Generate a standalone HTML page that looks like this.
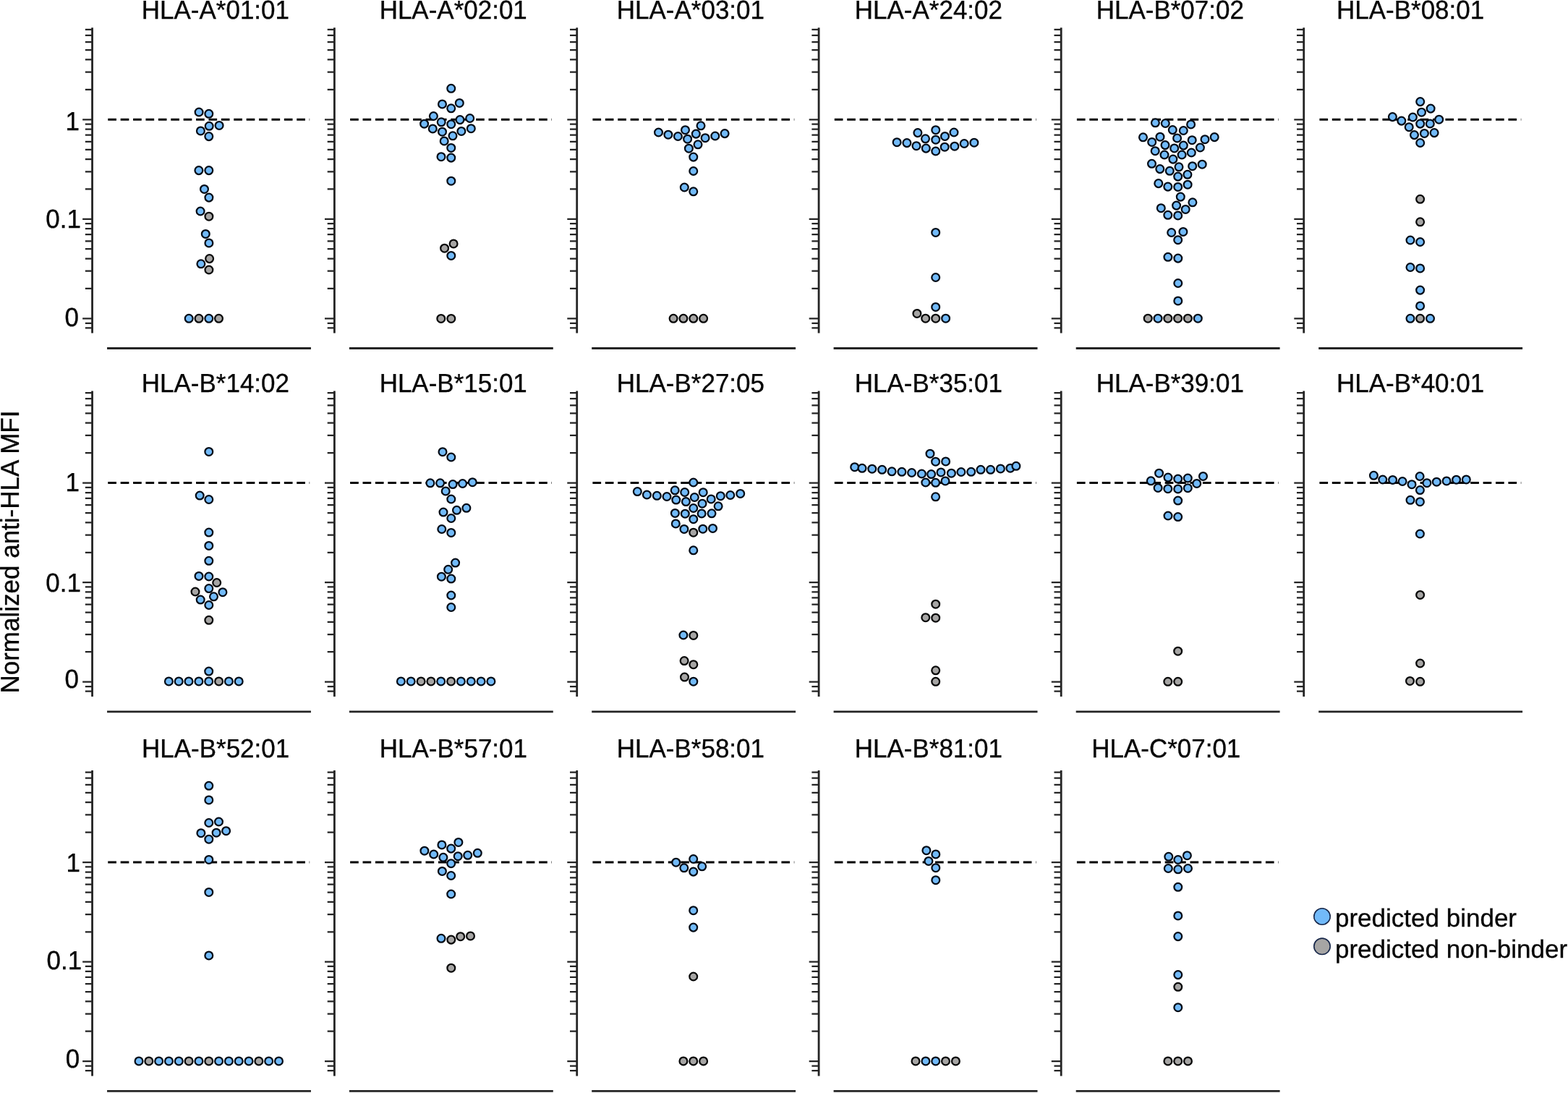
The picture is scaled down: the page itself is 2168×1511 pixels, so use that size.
<!DOCTYPE html>
<html lang="en"><head><meta charset="utf-8"><title>Normalized anti-HLA MFI</title>
<style>html,body{margin:0;padding:0;background:#fff}body{width:2168px;height:1511px;overflow:hidden}svg{display:block}text{font-family:"Liberation Sans",Arial,Helvetica,sans-serif;fill:#050505;stroke:#050505;stroke-width:0.35px;text-rendering:geometricPrecision}.ax{stroke:#242424;stroke-width:2.8;fill:none}.tk{stroke:#242424;stroke-width:2.25;fill:none}.dl{stroke:#050505;stroke-width:3;stroke-dasharray:11.7 5.7;fill:none}.b{fill:#72baf9;stroke:#030b16;stroke-width:2.25}.g{fill:#a6a5a4;stroke:#080808;stroke-width:2.25}.t{font-size:36.19px}</style></head><body>
<svg width="2168" height="1511" viewBox="0 0 2168 1511">
<rect width="2168" height="1511" fill="#fff"/>
<g>
<path class="ax" d="M127.55 38.26V460.6"/>
<path class="tk" d="M114.15 165.4H127.55M114.15 302.85H127.55M114.15 440.3H127.55M117.85 123.89H127.55M117.85 99.6H127.55M117.85 82.38H127.55M117.85 69.01H127.55M117.85 58.09H127.55M117.85 48.86H127.55M117.85 40.86H127.55M117.85 261.47H127.55M117.85 398.92H127.55M117.85 237.27H127.55M117.85 374.72H127.55M117.85 220.1H127.55M117.85 357.55H127.55M117.85 206.78H127.55M117.85 344.23H127.55M117.85 195.89H127.55M117.85 333.34H127.55M117.85 186.69H127.55M117.85 324.14H127.55M117.85 178.72H127.55M117.85 316.17H127.55M117.85 171.69H127.55M117.85 309.14H127.55M117.85 446.8H127.55M117.85 453.3H127.55"/>
<path class="ax" d="M148.05 481.5H429.95"/>
<path class="dl" d="M149.25 165.3H428.15"/>
<text class="t" transform="translate(195.83 26) scale(0.967 1)">HLA-A*01:01</text>
<circle class="b" cx="275.1" cy="155" r="5.4"/>
<circle class="b" cx="288.8" cy="157.3" r="5.4"/>
<circle class="b" cx="289.2" cy="174.3" r="5.4"/>
<circle class="b" cx="303.1" cy="173.4" r="5.4"/>
<circle class="b" cx="277.4" cy="180.9" r="5.4"/>
<circle class="b" cx="288.8" cy="188.6" r="5.4"/>
<circle class="b" cx="274.9" cy="235.6" r="5.4"/>
<circle class="b" cx="288.8" cy="235.6" r="5.4"/>
<circle class="b" cx="282.5" cy="261.4" r="5.4"/>
<circle class="b" cx="288.9" cy="273.1" r="5.4"/>
<circle class="b" cx="277.1" cy="292" r="5.4"/>
<circle class="g" cx="288.9" cy="299.2" r="5.4"/>
<circle class="b" cx="284.3" cy="323.4" r="5.4"/>
<circle class="b" cx="288.9" cy="335.9" r="5.4"/>
<circle class="g" cx="289.6" cy="357.6" r="5.4"/>
<circle class="b" cx="277.9" cy="364.8" r="5.4"/>
<circle class="g" cx="288.9" cy="373" r="5.4"/>
<circle class="b" cx="261.2" cy="440.3" r="5.4"/>
<circle class="g" cx="275" cy="440.3" r="5.4"/>
<circle class="b" cx="288.8" cy="440.3" r="5.4"/>
<circle class="g" cx="302.5" cy="440.3" r="5.4"/>
</g>
<g>
<path class="ax" d="M462.4 38.26V460.6"/>
<path class="tk" d="M449 165.4H462.4M449 302.85H462.4M449 440.3H462.4M452.7 123.89H462.4M452.7 99.6H462.4M452.7 82.38H462.4M452.7 69.01H462.4M452.7 58.09H462.4M452.7 48.86H462.4M452.7 40.86H462.4M452.7 261.47H462.4M452.7 398.92H462.4M452.7 237.27H462.4M452.7 374.72H462.4M452.7 220.1H462.4M452.7 357.55H462.4M452.7 206.78H462.4M452.7 344.23H462.4M452.7 195.89H462.4M452.7 333.34H462.4M452.7 186.69H462.4M452.7 324.14H462.4M452.7 178.72H462.4M452.7 316.17H462.4M452.7 171.69H462.4M452.7 309.14H462.4M452.7 446.8H462.4M452.7 453.3H462.4"/>
<path class="ax" d="M482.9 481.5H764.8"/>
<path class="dl" d="M484.1 165.3H763"/>
<text class="t" transform="translate(524.63 26) scale(0.967 1)">HLA-A*02:01</text>
<circle class="b" cx="623.75" cy="122.3" r="5.4"/>
<circle class="b" cx="611.5" cy="143.9" r="5.4"/>
<circle class="b" cx="635.3" cy="142.4" r="5.4"/>
<circle class="b" cx="623.75" cy="149.8" r="5.4"/>
<circle class="b" cx="599.4" cy="160.5" r="5.4"/>
<circle class="b" cx="636" cy="165.6" r="5.4"/>
<circle class="b" cx="649.7" cy="163.5" r="5.4"/>
<circle class="b" cx="610.2" cy="168.8" r="5.4"/>
<circle class="b" cx="586.6" cy="171.2" r="5.4"/>
<circle class="b" cx="623.75" cy="171.7" r="5.4"/>
<circle class="b" cx="598.3" cy="177.9" r="5.4"/>
<circle class="b" cx="651.3" cy="177.7" r="5.4"/>
<circle class="b" cx="611.5" cy="182.2" r="5.4"/>
<circle class="b" cx="637.9" cy="181.4" r="5.4"/>
<circle class="b" cx="626" cy="187.8" r="5.4"/>
<circle class="b" cx="614.2" cy="194.9" r="5.4"/>
<circle class="b" cx="623.75" cy="204.4" r="5.4"/>
<circle class="b" cx="610" cy="216.7" r="5.4"/>
<circle class="b" cx="623.75" cy="218.1" r="5.4"/>
<circle class="b" cx="623.8" cy="250.2" r="5.4"/>
<circle class="g" cx="627.1" cy="336.9" r="5.4"/>
<circle class="g" cx="614.6" cy="343.2" r="5.4"/>
<circle class="b" cx="623.8" cy="353.4" r="5.4"/>
<circle class="g" cx="609.8" cy="440.4" r="5.4"/>
<circle class="g" cx="623.8" cy="440.4" r="5.4"/>
</g>
<g>
<path class="ax" d="M797.7 38.26V460.6"/>
<path class="tk" d="M784.3 165.4H797.7M784.3 302.85H797.7M784.3 440.3H797.7M788 123.89H797.7M788 99.6H797.7M788 82.38H797.7M788 69.01H797.7M788 58.09H797.7M788 48.86H797.7M788 40.86H797.7M788 261.47H797.7M788 398.92H797.7M788 237.27H797.7M788 374.72H797.7M788 220.1H797.7M788 357.55H797.7M788 206.78H797.7M788 344.23H797.7M788 195.89H797.7M788 333.34H797.7M788 186.69H797.7M788 324.14H797.7M788 178.72H797.7M788 316.17H797.7M788 171.69H797.7M788 309.14H797.7M788 446.8H797.7M788 453.3H797.7"/>
<path class="ax" d="M818.2 481.5H1100.1"/>
<path class="dl" d="M819.4 165.3H1098.3"/>
<text class="t" transform="translate(852.83 26) scale(0.967 1)">HLA-A*03:01</text>
<circle class="b" cx="969" cy="173.8" r="5.4"/>
<circle class="b" cx="947.5" cy="179.7" r="5.4"/>
<circle class="b" cx="910.5" cy="183" r="5.4"/>
<circle class="b" cx="962.3" cy="185.1" r="5.4"/>
<circle class="b" cx="1002.1" cy="184.6" r="5.4"/>
<circle class="b" cx="923.9" cy="186.2" r="5.4"/>
<circle class="b" cx="937.4" cy="188.5" r="5.4"/>
<circle class="b" cx="988.8" cy="188" r="5.4"/>
<circle class="b" cx="975.1" cy="190.7" r="5.4"/>
<circle class="b" cx="950.6" cy="192.2" r="5.4"/>
<circle class="b" cx="965" cy="199.8" r="5.4"/>
<circle class="b" cx="952.4" cy="205.2" r="5.4"/>
<circle class="b" cx="958.75" cy="217.1" r="5.4"/>
<circle class="b" cx="958.75" cy="236.5" r="5.4"/>
<circle class="b" cx="946.3" cy="259" r="5.4"/>
<circle class="b" cx="958.75" cy="264.8" r="5.4"/>
<circle class="g" cx="931.1" cy="440.3" r="5.4"/>
<circle class="g" cx="944.9" cy="440.3" r="5.4"/>
<circle class="g" cx="958.75" cy="440.3" r="5.4"/>
<circle class="g" cx="972.6" cy="440.3" r="5.4"/>
</g>
<g>
<path class="ax" d="M1132.1 38.26V460.6"/>
<path class="tk" d="M1118.7 165.4H1132.1M1118.7 302.85H1132.1M1118.7 440.3H1132.1M1122.4 123.89H1132.1M1122.4 99.6H1132.1M1122.4 82.38H1132.1M1122.4 69.01H1132.1M1122.4 58.09H1132.1M1122.4 48.86H1132.1M1122.4 40.86H1132.1M1122.4 261.47H1132.1M1122.4 398.92H1132.1M1122.4 237.27H1132.1M1122.4 374.72H1132.1M1122.4 220.1H1132.1M1122.4 357.55H1132.1M1122.4 206.78H1132.1M1122.4 344.23H1132.1M1122.4 195.89H1132.1M1122.4 333.34H1132.1M1122.4 186.69H1132.1M1122.4 324.14H1132.1M1122.4 178.72H1132.1M1122.4 316.17H1132.1M1122.4 171.69H1132.1M1122.4 309.14H1132.1M1122.4 446.8H1132.1M1122.4 453.3H1132.1"/>
<path class="ax" d="M1152.6 481.5H1434.5"/>
<path class="dl" d="M1153.8 165.3H1432.7"/>
<text class="t" transform="translate(1181.83 26) scale(0.967 1)">HLA-A*24:02</text>
<circle class="b" cx="1293.75" cy="179.7" r="5.4"/>
<circle class="b" cx="1268.9" cy="183.6" r="5.4"/>
<circle class="b" cx="1319" cy="183" r="5.4"/>
<circle class="b" cx="1306.5" cy="188.4" r="5.4"/>
<circle class="b" cx="1279.5" cy="191.8" r="5.4"/>
<circle class="b" cx="1293.75" cy="193.2" r="5.4"/>
<circle class="b" cx="1240.1" cy="196.7" r="5.4"/>
<circle class="b" cx="1253.9" cy="197.6" r="5.4"/>
<circle class="b" cx="1346.9" cy="197.2" r="5.4"/>
<circle class="b" cx="1333.2" cy="198.5" r="5.4"/>
<circle class="b" cx="1267" cy="201.7" r="5.4"/>
<circle class="b" cx="1319.9" cy="202.2" r="5.4"/>
<circle class="b" cx="1306.2" cy="203.2" r="5.4"/>
<circle class="b" cx="1280.3" cy="205.1" r="5.4"/>
<circle class="b" cx="1293.75" cy="209" r="5.4"/>
<circle class="b" cx="1293.7" cy="321.4" r="5.4"/>
<circle class="b" cx="1293.7" cy="383.5" r="5.4"/>
<circle class="b" cx="1293.7" cy="424.4" r="5.4"/>
<circle class="g" cx="1267.9" cy="433.4" r="5.4"/>
<circle class="g" cx="1279.7" cy="440.2" r="5.4"/>
<circle class="g" cx="1293.7" cy="440.2" r="5.4"/>
<circle class="b" cx="1307.6" cy="440.2" r="5.4"/>
</g>
<g>
<path class="ax" d="M1467.2 38.26V460.6"/>
<path class="tk" d="M1453.8 165.4H1467.2M1453.8 302.85H1467.2M1453.8 440.3H1467.2M1457.5 123.89H1467.2M1457.5 99.6H1467.2M1457.5 82.38H1467.2M1457.5 69.01H1467.2M1457.5 58.09H1467.2M1457.5 48.86H1467.2M1457.5 40.86H1467.2M1457.5 261.47H1467.2M1457.5 398.92H1467.2M1457.5 237.27H1467.2M1457.5 374.72H1467.2M1457.5 220.1H1467.2M1457.5 357.55H1467.2M1457.5 206.78H1467.2M1457.5 344.23H1467.2M1457.5 195.89H1467.2M1457.5 333.34H1467.2M1457.5 186.69H1467.2M1457.5 324.14H1467.2M1457.5 178.72H1467.2M1457.5 316.17H1467.2M1457.5 171.69H1467.2M1457.5 309.14H1467.2M1457.5 446.8H1467.2M1457.5 453.3H1467.2"/>
<path class="ax" d="M1487.7 481.5H1769.6"/>
<path class="dl" d="M1488.9 165.3H1767.8"/>
<text class="t" transform="translate(1515.73 26) scale(0.967 1)">HLA-B*07:02</text>
<circle class="b" cx="1597.4" cy="169.8" r="5.4"/>
<circle class="b" cx="1611.3" cy="170.5" r="5.4"/>
<circle class="b" cx="1646.6" cy="171.9" r="5.4"/>
<circle class="b" cx="1621.3" cy="179.6" r="5.4"/>
<circle class="b" cx="1636.3" cy="180.5" r="5.4"/>
<circle class="b" cx="1580.5" cy="189.8" r="5.4"/>
<circle class="b" cx="1679.2" cy="189.6" r="5.4"/>
<circle class="b" cx="1604" cy="189.2" r="5.4"/>
<circle class="b" cx="1627.6" cy="190.9" r="5.4"/>
<circle class="b" cx="1666" cy="192.7" r="5.4"/>
<circle class="b" cx="1648.2" cy="193.7" r="5.4"/>
<circle class="b" cx="1592.7" cy="196.4" r="5.4"/>
<circle class="b" cx="1611" cy="200.6" r="5.4"/>
<circle class="b" cx="1636.3" cy="201.1" r="5.4"/>
<circle class="b" cx="1659.4" cy="204" r="5.4"/>
<circle class="b" cx="1623.7" cy="204.9" r="5.4"/>
<circle class="b" cx="1597.2" cy="208.7" r="5.4"/>
<circle class="b" cx="1647.3" cy="211" r="5.4"/>
<circle class="b" cx="1610" cy="214" r="5.4"/>
<circle class="b" cx="1634.1" cy="214" r="5.4"/>
<circle class="b" cx="1621.9" cy="220.1" r="5.4"/>
<circle class="b" cx="1592.5" cy="226.3" r="5.4"/>
<circle class="b" cx="1662.2" cy="227.2" r="5.4"/>
<circle class="b" cx="1648.7" cy="229.7" r="5.4"/>
<circle class="b" cx="1630" cy="230.8" r="5.4"/>
<circle class="b" cx="1603.8" cy="233.6" r="5.4"/>
<circle class="b" cx="1617.3" cy="236.3" r="5.4"/>
<circle class="b" cx="1641.9" cy="241.3" r="5.4"/>
<circle class="b" cx="1628.7" cy="244.1" r="5.4"/>
<circle class="b" cx="1601.8" cy="253.6" r="5.4"/>
<circle class="b" cx="1614.8" cy="258.1" r="5.4"/>
<circle class="b" cx="1628.7" cy="258.4" r="5.4"/>
<circle class="b" cx="1642.1" cy="255.2" r="5.4"/>
<circle class="b" cx="1632.3" cy="272.1" r="5.4"/>
<circle class="b" cx="1648.9" cy="279.8" r="5.4"/>
<circle class="b" cx="1626.6" cy="284.1" r="5.4"/>
<circle class="b" cx="1605.3" cy="287.7" r="5.4"/>
<circle class="b" cx="1639.2" cy="289.4" r="5.4"/>
<circle class="b" cx="1614.8" cy="297.3" r="5.4"/>
<circle class="b" cx="1628.7" cy="297.9" r="5.4"/>
<circle class="b" cx="1619.7" cy="321.5" r="5.4"/>
<circle class="b" cx="1635.9" cy="320.4" r="5.4"/>
<circle class="b" cx="1628.7" cy="331.7" r="5.4"/>
<circle class="b" cx="1614.9" cy="355.3" r="5.4"/>
<circle class="b" cx="1628.8" cy="357.1" r="5.4"/>
<circle class="b" cx="1628.8" cy="391.5" r="5.4"/>
<circle class="b" cx="1628.8" cy="415.9" r="5.4"/>
<circle class="g" cx="1587.2" cy="440.2" r="5.4"/>
<circle class="b" cx="1601" cy="440.2" r="5.4"/>
<circle class="g" cx="1614.8" cy="440.2" r="5.4"/>
<circle class="g" cx="1628.6" cy="440.2" r="5.4"/>
<circle class="g" cx="1642.4" cy="440.2" r="5.4"/>
<circle class="b" cx="1656.3" cy="440.2" r="5.4"/>
</g>
<g>
<path class="ax" d="M1802.7 38.26V460.6"/>
<path class="tk" d="M1789.3 165.4H1802.7M1789.3 302.85H1802.7M1789.3 440.3H1802.7M1793 123.89H1802.7M1793 99.6H1802.7M1793 82.38H1802.7M1793 69.01H1802.7M1793 58.09H1802.7M1793 48.86H1802.7M1793 40.86H1802.7M1793 261.47H1802.7M1793 398.92H1802.7M1793 237.27H1802.7M1793 374.72H1802.7M1793 220.1H1802.7M1793 357.55H1802.7M1793 206.78H1802.7M1793 344.23H1802.7M1793 195.89H1802.7M1793 333.34H1802.7M1793 186.69H1802.7M1793 324.14H1802.7M1793 178.72H1802.7M1793 316.17H1802.7M1793 171.69H1802.7M1793 309.14H1802.7M1793 446.8H1802.7M1793 453.3H1802.7"/>
<path class="ax" d="M1823.2 481.5H2105.1"/>
<path class="dl" d="M1824.4 165.3H2103.3"/>
<text class="t" transform="translate(1848.03 26) scale(0.967 1)">HLA-B*08:01</text>
<circle class="b" cx="1963.7" cy="140.6" r="5.4"/>
<circle class="b" cx="1978.1" cy="150.1" r="5.4"/>
<circle class="b" cx="1965.5" cy="155.2" r="5.4"/>
<circle class="b" cx="1953.4" cy="162" r="5.4"/>
<circle class="b" cx="1925.4" cy="161.6" r="5.4"/>
<circle class="b" cx="1989.7" cy="165.2" r="5.4"/>
<circle class="b" cx="1937.8" cy="167.1" r="5.4"/>
<circle class="b" cx="1963.7" cy="171.1" r="5.4"/>
<circle class="b" cx="1977.3" cy="170.9" r="5.4"/>
<circle class="b" cx="1948.2" cy="175.7" r="5.4"/>
<circle class="b" cx="1983.1" cy="183.6" r="5.4"/>
<circle class="b" cx="1969.4" cy="184.4" r="5.4"/>
<circle class="b" cx="1955.5" cy="186.6" r="5.4"/>
<circle class="b" cx="1963.7" cy="197.5" r="5.4"/>
<circle class="g" cx="1963.6" cy="275.3" r="5.4"/>
<circle class="g" cx="1963.6" cy="306.8" r="5.4"/>
<circle class="b" cx="1950" cy="332" r="5.4"/>
<circle class="b" cx="1963.6" cy="334.5" r="5.4"/>
<circle class="b" cx="1950" cy="369.5" r="5.4"/>
<circle class="b" cx="1963.6" cy="370.9" r="5.4"/>
<circle class="b" cx="1963.6" cy="401.1" r="5.4"/>
<circle class="b" cx="1963.6" cy="422.9" r="5.4"/>
<circle class="b" cx="1950" cy="440.3" r="5.4"/>
<circle class="g" cx="1963.6" cy="440.3" r="5.4"/>
<circle class="b" cx="1977.5" cy="440.3" r="5.4"/>
</g>
<g>
<path class="ax" d="M127.55 540.56V962.9"/>
<path class="tk" d="M114.15 667.7H127.55M114.15 805.15H127.55M114.15 942.6H127.55M117.85 626.19H127.55M117.85 601.9H127.55M117.85 584.68H127.55M117.85 571.31H127.55M117.85 560.39H127.55M117.85 551.16H127.55M117.85 543.16H127.55M117.85 763.77H127.55M117.85 901.22H127.55M117.85 739.57H127.55M117.85 877.02H127.55M117.85 722.4H127.55M117.85 859.85H127.55M117.85 709.08H127.55M117.85 846.53H127.55M117.85 698.19H127.55M117.85 835.64H127.55M117.85 688.99H127.55M117.85 826.44H127.55M117.85 681.02H127.55M117.85 818.47H127.55M117.85 673.99H127.55M117.85 811.44H127.55M117.85 949.1H127.55M117.85 955.6H127.55"/>
<path class="ax" d="M148.05 983.8H429.95"/>
<path class="dl" d="M149.25 667.6H428.15"/>
<text class="t" transform="translate(195.83 541.8) scale(0.967 1)">HLA-B*14:02</text>
<circle class="b" cx="288.8" cy="624.4" r="5.4"/>
<circle class="b" cx="276.2" cy="685.1" r="5.4"/>
<circle class="b" cx="288.8" cy="690.5" r="5.4"/>
<circle class="b" cx="288.8" cy="736.1" r="5.4"/>
<circle class="b" cx="288.8" cy="754.4" r="5.4"/>
<circle class="b" cx="288.8" cy="775.3" r="5.4"/>
<circle class="b" cx="275" cy="796.4" r="5.4"/>
<circle class="b" cx="288.8" cy="797" r="5.4"/>
<circle class="g" cx="299.7" cy="805.5" r="5.4"/>
<circle class="b" cx="288.8" cy="813.6" r="5.4"/>
<circle class="g" cx="270" cy="818" r="5.4"/>
<circle class="b" cx="307.9" cy="818.7" r="5.4"/>
<circle class="b" cx="295.5" cy="824.8" r="5.4"/>
<circle class="b" cx="277.2" cy="829.1" r="5.4"/>
<circle class="b" cx="288.8" cy="836.5" r="5.4"/>
<circle class="g" cx="288.8" cy="857.3" r="5.4"/>
<circle class="b" cx="288.7" cy="928.1" r="5.4"/>
<circle class="b" cx="233.4" cy="941.9" r="5.4"/>
<circle class="b" cx="247.2" cy="941.9" r="5.4"/>
<circle class="b" cx="261" cy="941.9" r="5.4"/>
<circle class="b" cx="274.9" cy="941.9" r="5.4"/>
<circle class="b" cx="288.7" cy="941.9" r="5.4"/>
<circle class="g" cx="302.6" cy="941.9" r="5.4"/>
<circle class="b" cx="316.4" cy="941.9" r="5.4"/>
<circle class="b" cx="330.2" cy="941.9" r="5.4"/>
</g>
<g>
<path class="ax" d="M462.4 540.56V962.9"/>
<path class="tk" d="M449 667.7H462.4M449 805.15H462.4M449 942.6H462.4M452.7 626.19H462.4M452.7 601.9H462.4M452.7 584.68H462.4M452.7 571.31H462.4M452.7 560.39H462.4M452.7 551.16H462.4M452.7 543.16H462.4M452.7 763.77H462.4M452.7 901.22H462.4M452.7 739.57H462.4M452.7 877.02H462.4M452.7 722.4H462.4M452.7 859.85H462.4M452.7 709.08H462.4M452.7 846.53H462.4M452.7 698.19H462.4M452.7 835.64H462.4M452.7 688.99H462.4M452.7 826.44H462.4M452.7 681.02H462.4M452.7 818.47H462.4M452.7 673.99H462.4M452.7 811.44H462.4M452.7 949.1H462.4M452.7 955.6H462.4"/>
<path class="ax" d="M482.9 983.8H764.8"/>
<path class="dl" d="M484.1 667.6H763"/>
<text class="t" transform="translate(524.63 541.8) scale(0.967 1)">HLA-B*15:01</text>
<circle class="b" cx="612" cy="624.7" r="5.4"/>
<circle class="b" cx="623.8" cy="632" r="5.4"/>
<circle class="b" cx="594.9" cy="667.8" r="5.4"/>
<circle class="b" cx="608.6" cy="667.8" r="5.4"/>
<circle class="b" cx="626.1" cy="669.6" r="5.4"/>
<circle class="b" cx="639.6" cy="668.5" r="5.4"/>
<circle class="b" cx="653.3" cy="666.7" r="5.4"/>
<circle class="b" cx="616.2" cy="678.9" r="5.4"/>
<circle class="b" cx="623.8" cy="690" r="5.4"/>
<circle class="b" cx="644.9" cy="702.3" r="5.4"/>
<circle class="b" cx="631.5" cy="705.3" r="5.4"/>
<circle class="b" cx="613" cy="708.1" r="5.4"/>
<circle class="b" cx="623.8" cy="716.5" r="5.4"/>
<circle class="b" cx="610.8" cy="731.5" r="5.4"/>
<circle class="b" cx="623.8" cy="736.4" r="5.4"/>
<circle class="b" cx="629.6" cy="778.1" r="5.4"/>
<circle class="b" cx="619.7" cy="787.3" r="5.4"/>
<circle class="b" cx="610.4" cy="797.2" r="5.4"/>
<circle class="b" cx="623.8" cy="800.1" r="5.4"/>
<circle class="b" cx="623.8" cy="823" r="5.4"/>
<circle class="b" cx="623.8" cy="839.5" r="5.4"/>
<circle class="b" cx="554.4" cy="941.9" r="5.4"/>
<circle class="b" cx="568.2" cy="941.9" r="5.4"/>
<circle class="g" cx="582.1" cy="941.9" r="5.4"/>
<circle class="g" cx="595.9" cy="941.9" r="5.4"/>
<circle class="b" cx="609.7" cy="941.9" r="5.4"/>
<circle class="g" cx="623.6" cy="941.9" r="5.4"/>
<circle class="b" cx="637.4" cy="941.9" r="5.4"/>
<circle class="b" cx="651.3" cy="941.9" r="5.4"/>
<circle class="b" cx="665.1" cy="941.9" r="5.4"/>
<circle class="b" cx="678.9" cy="941.9" r="5.4"/>
</g>
<g>
<path class="ax" d="M797.7 540.56V962.9"/>
<path class="tk" d="M784.3 667.7H797.7M784.3 805.15H797.7M784.3 942.6H797.7M788 626.19H797.7M788 601.9H797.7M788 584.68H797.7M788 571.31H797.7M788 560.39H797.7M788 551.16H797.7M788 543.16H797.7M788 763.77H797.7M788 901.22H797.7M788 739.57H797.7M788 877.02H797.7M788 722.4H797.7M788 859.85H797.7M788 709.08H797.7M788 846.53H797.7M788 698.19H797.7M788 835.64H797.7M788 688.99H797.7M788 826.44H797.7M788 681.02H797.7M788 818.47H797.7M788 673.99H797.7M788 811.44H797.7M788 949.1H797.7M788 955.6H797.7"/>
<path class="ax" d="M818.2 983.8H1100.1"/>
<path class="dl" d="M819.4 667.6H1098.3"/>
<text class="t" transform="translate(852.83 541.8) scale(0.967 1)">HLA-B*27:05</text>
<circle class="b" cx="958.75" cy="667" r="5.4"/>
<circle class="b" cx="881.3" cy="679.6" r="5.4"/>
<circle class="b" cx="933.2" cy="677.8" r="5.4"/>
<circle class="b" cx="946.7" cy="680.5" r="5.4"/>
<circle class="b" cx="972.2" cy="680.7" r="5.4"/>
<circle class="b" cx="1023.7" cy="682.4" r="5.4"/>
<circle class="b" cx="894.4" cy="684" r="5.4"/>
<circle class="b" cx="1009.8" cy="684.5" r="5.4"/>
<circle class="b" cx="908.3" cy="685.3" r="5.4"/>
<circle class="b" cx="996.3" cy="685.7" r="5.4"/>
<circle class="b" cx="922" cy="686.5" r="5.4"/>
<circle class="b" cx="960.3" cy="687.5" r="5.4"/>
<circle class="b" cx="983.2" cy="689.9" r="5.4"/>
<circle class="b" cx="934.8" cy="691.1" r="5.4"/>
<circle class="b" cx="948.4" cy="693.6" r="5.4"/>
<circle class="b" cx="971" cy="696.2" r="5.4"/>
<circle class="b" cx="993.1" cy="699.8" r="5.4"/>
<circle class="b" cx="958.75" cy="702.5" r="5.4"/>
<circle class="b" cx="933.4" cy="709.4" r="5.4"/>
<circle class="b" cx="947.3" cy="710.2" r="5.4"/>
<circle class="b" cx="970.1" cy="709.9" r="5.4"/>
<circle class="b" cx="984" cy="709.8" r="5.4"/>
<circle class="b" cx="958.75" cy="717.7" r="5.4"/>
<circle class="b" cx="934.3" cy="723.9" r="5.4"/>
<circle class="b" cx="945.9" cy="731.4" r="5.4"/>
<circle class="b" cx="971.8" cy="731.2" r="5.4"/>
<circle class="b" cx="985.5" cy="730.4" r="5.4"/>
<circle class="g" cx="958.75" cy="736.2" r="5.4"/>
<circle class="b" cx="958.75" cy="760.8" r="5.4"/>
<circle class="b" cx="944.9" cy="878" r="5.4"/>
<circle class="g" cx="958.8" cy="878.4" r="5.4"/>
<circle class="g" cx="946.1" cy="913.6" r="5.4"/>
<circle class="g" cx="958.8" cy="918.7" r="5.4"/>
<circle class="g" cx="946.5" cy="936.1" r="5.4"/>
<circle class="b" cx="958.8" cy="942.2" r="5.4"/>
</g>
<g>
<path class="ax" d="M1132.1 540.56V962.9"/>
<path class="tk" d="M1118.7 667.7H1132.1M1118.7 805.15H1132.1M1118.7 942.6H1132.1M1122.4 626.19H1132.1M1122.4 601.9H1132.1M1122.4 584.68H1132.1M1122.4 571.31H1132.1M1122.4 560.39H1132.1M1122.4 551.16H1132.1M1122.4 543.16H1132.1M1122.4 763.77H1132.1M1122.4 901.22H1132.1M1122.4 739.57H1132.1M1122.4 877.02H1132.1M1122.4 722.4H1132.1M1122.4 859.85H1132.1M1122.4 709.08H1132.1M1122.4 846.53H1132.1M1122.4 698.19H1132.1M1122.4 835.64H1132.1M1122.4 688.99H1132.1M1122.4 826.44H1132.1M1122.4 681.02H1132.1M1122.4 818.47H1132.1M1122.4 673.99H1132.1M1122.4 811.44H1132.1M1122.4 949.1H1132.1M1122.4 955.6H1132.1"/>
<path class="ax" d="M1152.6 983.8H1434.5"/>
<path class="dl" d="M1153.8 667.6H1432.7"/>
<text class="t" transform="translate(1181.83 541.8) scale(0.967 1)">HLA-B*35:01</text>
<circle class="b" cx="1181.7" cy="645.7" r="5.4"/>
<circle class="b" cx="1192" cy="647.3" r="5.4"/>
<circle class="b" cx="1205.8" cy="648.2" r="5.4"/>
<circle class="b" cx="1219.6" cy="649.3" r="5.4"/>
<circle class="b" cx="1233.1" cy="651.8" r="5.4"/>
<circle class="b" cx="1246.9" cy="652.3" r="5.4"/>
<circle class="b" cx="1260.6" cy="653.5" r="5.4"/>
<circle class="b" cx="1274.4" cy="655" r="5.4"/>
<circle class="b" cx="1287.6" cy="655.6" r="5.4"/>
<circle class="b" cx="1286" cy="627.2" r="5.4"/>
<circle class="b" cx="1293.6" cy="638.2" r="5.4"/>
<circle class="b" cx="1279.8" cy="667" r="5.4"/>
<circle class="b" cx="1293.6" cy="667.3" r="5.4"/>
<circle class="b" cx="1293.6" cy="686.8" r="5.4"/>
<circle class="b" cx="1307.6" cy="637.9" r="5.4"/>
<circle class="b" cx="1301" cy="652.9" r="5.4"/>
<circle class="b" cx="1315.4" cy="654.2" r="5.4"/>
<circle class="b" cx="1328.9" cy="652.5" r="5.4"/>
<circle class="b" cx="1342.7" cy="652.3" r="5.4"/>
<circle class="b" cx="1356" cy="649.3" r="5.4"/>
<circle class="b" cx="1369.6" cy="649.3" r="5.4"/>
<circle class="b" cx="1383.4" cy="647.9" r="5.4"/>
<circle class="b" cx="1396.9" cy="647.2" r="5.4"/>
<circle class="b" cx="1404.9" cy="644.3" r="5.4"/>
<circle class="b" cx="1307" cy="664.9" r="5.4"/>
<circle class="g" cx="1293.7" cy="835.2" r="5.4"/>
<circle class="g" cx="1279.8" cy="853.7" r="5.4"/>
<circle class="g" cx="1293.7" cy="854.2" r="5.4"/>
<circle class="g" cx="1293.7" cy="926.8" r="5.4"/>
<circle class="g" cx="1293.7" cy="942.3" r="5.4"/>
</g>
<g>
<path class="ax" d="M1467.2 540.56V962.9"/>
<path class="tk" d="M1453.8 667.7H1467.2M1453.8 805.15H1467.2M1453.8 942.6H1467.2M1457.5 626.19H1467.2M1457.5 601.9H1467.2M1457.5 584.68H1467.2M1457.5 571.31H1467.2M1457.5 560.39H1467.2M1457.5 551.16H1467.2M1457.5 543.16H1467.2M1457.5 763.77H1467.2M1457.5 901.22H1467.2M1457.5 739.57H1467.2M1457.5 877.02H1467.2M1457.5 722.4H1467.2M1457.5 859.85H1467.2M1457.5 709.08H1467.2M1457.5 846.53H1467.2M1457.5 698.19H1467.2M1457.5 835.64H1467.2M1457.5 688.99H1467.2M1457.5 826.44H1467.2M1457.5 681.02H1467.2M1457.5 818.47H1467.2M1457.5 673.99H1467.2M1457.5 811.44H1467.2M1457.5 949.1H1467.2M1457.5 955.6H1467.2"/>
<path class="ax" d="M1487.7 983.8H1769.6"/>
<path class="dl" d="M1488.9 667.6H1767.8"/>
<text class="t" transform="translate(1515.73 541.8) scale(0.967 1)">HLA-B*39:01</text>
<circle class="b" cx="1602.6" cy="654.2" r="5.4"/>
<circle class="b" cx="1663.5" cy="658.4" r="5.4"/>
<circle class="b" cx="1615" cy="660.1" r="5.4"/>
<circle class="b" cx="1642.3" cy="661" r="5.4"/>
<circle class="b" cx="1628.7" cy="662.1" r="5.4"/>
<circle class="b" cx="1591.3" cy="664.8" r="5.4"/>
<circle class="b" cx="1654.7" cy="668.4" r="5.4"/>
<circle class="b" cx="1601.1" cy="674.4" r="5.4"/>
<circle class="b" cx="1642.3" cy="674.7" r="5.4"/>
<circle class="b" cx="1614.8" cy="675.7" r="5.4"/>
<circle class="b" cx="1628.7" cy="675.9" r="5.4"/>
<circle class="b" cx="1628.7" cy="692.1" r="5.4"/>
<circle class="b" cx="1615" cy="713" r="5.4"/>
<circle class="b" cx="1628.7" cy="714.6" r="5.4"/>
<circle class="g" cx="1628.7" cy="900.2" r="5.4"/>
<circle class="g" cx="1614.8" cy="942.3" r="5.4"/>
<circle class="g" cx="1628.7" cy="942.3" r="5.4"/>
</g>
<g>
<path class="ax" d="M1802.7 540.56V962.9"/>
<path class="tk" d="M1789.3 667.7H1802.7M1789.3 805.15H1802.7M1789.3 942.6H1802.7M1793 626.19H1802.7M1793 601.9H1802.7M1793 584.68H1802.7M1793 571.31H1802.7M1793 560.39H1802.7M1793 551.16H1802.7M1793 543.16H1802.7M1793 763.77H1802.7M1793 901.22H1802.7M1793 739.57H1802.7M1793 877.02H1802.7M1793 722.4H1802.7M1793 859.85H1802.7M1793 709.08H1802.7M1793 846.53H1802.7M1793 698.19H1802.7M1793 835.64H1802.7M1793 688.99H1802.7M1793 826.44H1802.7M1793 681.02H1802.7M1793 818.47H1802.7M1793 673.99H1802.7M1793 811.44H1802.7M1793 949.1H1802.7M1793 955.6H1802.7"/>
<path class="ax" d="M1823.2 983.8H2105.1"/>
<path class="dl" d="M1824.4 667.6H2103.3"/>
<text class="t" transform="translate(1848.03 541.8) scale(0.967 1)">HLA-B*40:01</text>
<circle class="b" cx="1899.4" cy="657.3" r="5.4"/>
<circle class="b" cx="1911.8" cy="663" r="5.4"/>
<circle class="b" cx="1925.6" cy="663.4" r="5.4"/>
<circle class="b" cx="1939.1" cy="665.5" r="5.4"/>
<circle class="b" cx="1952" cy="669.7" r="5.4"/>
<circle class="b" cx="1963.1" cy="658.5" r="5.4"/>
<circle class="b" cx="1972.9" cy="667.7" r="5.4"/>
<circle class="b" cx="1986.3" cy="666.2" r="5.4"/>
<circle class="b" cx="2000.1" cy="664.9" r="5.4"/>
<circle class="b" cx="2013.6" cy="663.2" r="5.4"/>
<circle class="b" cx="2027.3" cy="662.9" r="5.4"/>
<circle class="b" cx="1963.4" cy="677.6" r="5.4"/>
<circle class="b" cx="1950" cy="691.3" r="5.4"/>
<circle class="b" cx="1963.4" cy="693.7" r="5.4"/>
<circle class="b" cx="1963.4" cy="738" r="5.4"/>
<circle class="g" cx="1963.6" cy="822.4" r="5.4"/>
<circle class="g" cx="1963.6" cy="917" r="5.4"/>
<circle class="g" cx="1949.5" cy="941.4" r="5.4"/>
<circle class="g" cx="1963.6" cy="942.3" r="5.4"/>
</g>
<g>
<path class="ax" d="M127.55 1065.06V1487.4"/>
<path class="tk" d="M114.15 1192.2H127.55M114.15 1329.65H127.55M114.15 1467.1H127.55M117.85 1150.69H127.55M117.85 1126.4H127.55M117.85 1109.18H127.55M117.85 1095.81H127.55M117.85 1084.89H127.55M117.85 1075.66H127.55M117.85 1067.66H127.55M117.85 1288.27H127.55M117.85 1425.72H127.55M117.85 1264.07H127.55M117.85 1401.52H127.55M117.85 1246.9H127.55M117.85 1384.35H127.55M117.85 1233.58H127.55M117.85 1371.03H127.55M117.85 1222.69H127.55M117.85 1360.14H127.55M117.85 1213.49H127.55M117.85 1350.94H127.55M117.85 1205.52H127.55M117.85 1342.97H127.55M117.85 1198.49H127.55M117.85 1335.94H127.55M117.85 1473.6H127.55M117.85 1480.1H127.55"/>
<path class="ax" d="M148.05 1508.3H429.95"/>
<path class="dl" d="M149.25 1192.1H428.15"/>
<text class="t" transform="translate(196.03 1046.5) scale(0.967 1)">HLA-B*52:01</text>
<circle class="b" cx="288.8" cy="1086.3" r="5.4"/>
<circle class="b" cx="288.8" cy="1105.9" r="5.4"/>
<circle class="b" cx="288.8" cy="1137.5" r="5.4"/>
<circle class="b" cx="302.5" cy="1136" r="5.4"/>
<circle class="b" cx="277.9" cy="1151.7" r="5.4"/>
<circle class="b" cx="299.1" cy="1151.2" r="5.4"/>
<circle class="b" cx="312.6" cy="1148.7" r="5.4"/>
<circle class="b" cx="288.8" cy="1160.2" r="5.4"/>
<circle class="b" cx="288.8" cy="1188.4" r="5.4"/>
<circle class="b" cx="288.8" cy="1233.4" r="5.4"/>
<circle class="b" cx="288.8" cy="1320.9" r="5.4"/>
<circle class="b" cx="192.01" cy="1466.9" r="5.4"/>
<circle class="g" cx="205.83" cy="1466.9" r="5.4"/>
<circle class="b" cx="219.65" cy="1466.9" r="5.4"/>
<circle class="b" cx="233.47" cy="1466.9" r="5.4"/>
<circle class="b" cx="247.29" cy="1466.9" r="5.4"/>
<circle class="g" cx="261.11" cy="1466.9" r="5.4"/>
<circle class="b" cx="274.93" cy="1466.9" r="5.4"/>
<circle class="g" cx="288.75" cy="1466.9" r="5.4"/>
<circle class="b" cx="302.57" cy="1466.9" r="5.4"/>
<circle class="b" cx="316.39" cy="1466.9" r="5.4"/>
<circle class="b" cx="330.21" cy="1466.9" r="5.4"/>
<circle class="b" cx="344.03" cy="1466.9" r="5.4"/>
<circle class="g" cx="357.85" cy="1466.9" r="5.4"/>
<circle class="b" cx="371.67" cy="1466.9" r="5.4"/>
<circle class="b" cx="385.49" cy="1466.9" r="5.4"/>
</g>
<g>
<path class="ax" d="M462.4 1065.06V1487.4"/>
<path class="tk" d="M449 1192.2H462.4M449 1329.65H462.4M449 1467.1H462.4M452.7 1150.69H462.4M452.7 1126.4H462.4M452.7 1109.18H462.4M452.7 1095.81H462.4M452.7 1084.89H462.4M452.7 1075.66H462.4M452.7 1067.66H462.4M452.7 1288.27H462.4M452.7 1425.72H462.4M452.7 1264.07H462.4M452.7 1401.52H462.4M452.7 1246.9H462.4M452.7 1384.35H462.4M452.7 1233.58H462.4M452.7 1371.03H462.4M452.7 1222.69H462.4M452.7 1360.14H462.4M452.7 1213.49H462.4M452.7 1350.94H462.4M452.7 1205.52H462.4M452.7 1342.97H462.4M452.7 1198.49H462.4M452.7 1335.94H462.4M452.7 1473.6H462.4M452.7 1480.1H462.4"/>
<path class="ax" d="M482.9 1508.3H764.8"/>
<path class="dl" d="M484.1 1192.1H763"/>
<text class="t" transform="translate(524.83 1046.5) scale(0.967 1)">HLA-B*57:01</text>
<circle class="b" cx="633.9" cy="1164.4" r="5.4"/>
<circle class="b" cx="610.9" cy="1167.9" r="5.4"/>
<circle class="b" cx="623.7" cy="1173.1" r="5.4"/>
<circle class="b" cx="586.9" cy="1176.2" r="5.4"/>
<circle class="b" cx="660.3" cy="1179.3" r="5.4"/>
<circle class="b" cx="599.7" cy="1181" r="5.4"/>
<circle class="b" cx="646.7" cy="1182.3" r="5.4"/>
<circle class="b" cx="633.2" cy="1183.7" r="5.4"/>
<circle class="b" cx="612.9" cy="1185.3" r="5.4"/>
<circle class="b" cx="623.7" cy="1193.7" r="5.4"/>
<circle class="b" cx="611.4" cy="1204.4" r="5.4"/>
<circle class="b" cx="623.7" cy="1210.5" r="5.4"/>
<circle class="b" cx="623.7" cy="1236" r="5.4"/>
<circle class="b" cx="610" cy="1297.3" r="5.4"/>
<circle class="g" cx="623.8" cy="1299.1" r="5.4"/>
<circle class="g" cx="636.7" cy="1294.7" r="5.4"/>
<circle class="g" cx="650.5" cy="1293.9" r="5.4"/>
<circle class="g" cx="623.8" cy="1338.2" r="5.4"/>
</g>
<g>
<path class="ax" d="M797.7 1065.06V1487.4"/>
<path class="tk" d="M784.3 1192.2H797.7M784.3 1329.65H797.7M784.3 1467.1H797.7M788 1150.69H797.7M788 1126.4H797.7M788 1109.18H797.7M788 1095.81H797.7M788 1084.89H797.7M788 1075.66H797.7M788 1067.66H797.7M788 1288.27H797.7M788 1425.72H797.7M788 1264.07H797.7M788 1401.52H797.7M788 1246.9H797.7M788 1384.35H797.7M788 1233.58H797.7M788 1371.03H797.7M788 1222.69H797.7M788 1360.14H797.7M788 1213.49H797.7M788 1350.94H797.7M788 1205.52H797.7M788 1342.97H797.7M788 1198.49H797.7M788 1335.94H797.7M788 1473.6H797.7M788 1480.1H797.7"/>
<path class="ax" d="M818.2 1508.3H1100.1"/>
<path class="dl" d="M819.4 1192.1H1098.3"/>
<text class="t" transform="translate(852.83 1046.5) scale(0.967 1)">HLA-B*58:01</text>
<circle class="b" cx="958.7" cy="1187.5" r="5.4"/>
<circle class="b" cx="934.7" cy="1192.2" r="5.4"/>
<circle class="b" cx="945.8" cy="1199.8" r="5.4"/>
<circle class="b" cx="970.7" cy="1197.8" r="5.4"/>
<circle class="b" cx="958.7" cy="1205.1" r="5.4"/>
<circle class="b" cx="958.7" cy="1258.7" r="5.4"/>
<circle class="b" cx="958.7" cy="1282.1" r="5.4"/>
<circle class="g" cx="958.7" cy="1350" r="5.4"/>
<circle class="g" cx="944.9" cy="1466.9" r="5.4"/>
<circle class="g" cx="958.7" cy="1466.9" r="5.4"/>
<circle class="g" cx="972.6" cy="1466.9" r="5.4"/>
</g>
<g>
<path class="ax" d="M1132.1 1065.06V1487.4"/>
<path class="tk" d="M1118.7 1192.2H1132.1M1118.7 1329.65H1132.1M1118.7 1467.1H1132.1M1122.4 1150.69H1132.1M1122.4 1126.4H1132.1M1122.4 1109.18H1132.1M1122.4 1095.81H1132.1M1122.4 1084.89H1132.1M1122.4 1075.66H1132.1M1122.4 1067.66H1132.1M1122.4 1288.27H1132.1M1122.4 1425.72H1132.1M1122.4 1264.07H1132.1M1122.4 1401.52H1132.1M1122.4 1246.9H1132.1M1122.4 1384.35H1132.1M1122.4 1233.58H1132.1M1122.4 1371.03H1132.1M1122.4 1222.69H1132.1M1122.4 1360.14H1132.1M1122.4 1213.49H1132.1M1122.4 1350.94H1132.1M1122.4 1205.52H1132.1M1122.4 1342.97H1132.1M1122.4 1198.49H1132.1M1122.4 1335.94H1132.1M1122.4 1473.6H1132.1M1122.4 1480.1H1132.1"/>
<path class="ax" d="M1152.6 1508.3H1434.5"/>
<path class="dl" d="M1153.8 1192.1H1432.7"/>
<text class="t" transform="translate(1181.83 1046.5) scale(0.967 1)">HLA-B*81:01</text>
<circle class="b" cx="1280.9" cy="1175.7" r="5.4"/>
<circle class="b" cx="1293.8" cy="1180.9" r="5.4"/>
<circle class="b" cx="1283.9" cy="1190.4" r="5.4"/>
<circle class="b" cx="1293.8" cy="1199.7" r="5.4"/>
<circle class="b" cx="1293.8" cy="1216.7" r="5.4"/>
<circle class="g" cx="1266" cy="1466.9" r="5.4"/>
<circle class="b" cx="1279.9" cy="1466.9" r="5.4"/>
<circle class="b" cx="1293.7" cy="1466.9" r="5.4"/>
<circle class="g" cx="1307.5" cy="1466.9" r="5.4"/>
<circle class="g" cx="1321.4" cy="1466.9" r="5.4"/>
</g>
<g>
<path class="ax" d="M1467.2 1065.06V1487.4"/>
<path class="tk" d="M1453.8 1192.2H1467.2M1453.8 1329.65H1467.2M1453.8 1467.1H1467.2M1457.5 1150.69H1467.2M1457.5 1126.4H1467.2M1457.5 1109.18H1467.2M1457.5 1095.81H1467.2M1457.5 1084.89H1467.2M1457.5 1075.66H1467.2M1457.5 1067.66H1467.2M1457.5 1288.27H1467.2M1457.5 1425.72H1467.2M1457.5 1264.07H1467.2M1457.5 1401.52H1467.2M1457.5 1246.9H1467.2M1457.5 1384.35H1467.2M1457.5 1233.58H1467.2M1457.5 1371.03H1467.2M1457.5 1222.69H1467.2M1457.5 1360.14H1467.2M1457.5 1213.49H1467.2M1457.5 1350.94H1467.2M1457.5 1205.52H1467.2M1457.5 1342.97H1467.2M1457.5 1198.49H1467.2M1457.5 1335.94H1467.2M1457.5 1473.6H1467.2M1457.5 1480.1H1467.2"/>
<path class="ax" d="M1487.7 1508.3H1769.6"/>
<path class="dl" d="M1488.9 1192.1H1767.8"/>
<text class="t" transform="translate(1509.23 1046.5) scale(0.967 1)">HLA-C*07:01</text>
<circle class="b" cx="1615.8" cy="1184.3" r="5.4"/>
<circle class="b" cx="1641.4" cy="1182.7" r="5.4"/>
<circle class="b" cx="1628.8" cy="1188.5" r="5.4"/>
<circle class="b" cx="1615.3" cy="1200.5" r="5.4"/>
<circle class="b" cx="1628.8" cy="1201.8" r="5.4"/>
<circle class="b" cx="1642.5" cy="1200.5" r="5.4"/>
<circle class="b" cx="1628.8" cy="1226.3" r="5.4"/>
<circle class="b" cx="1628.8" cy="1265.9" r="5.4"/>
<circle class="b" cx="1628.8" cy="1294.6" r="5.4"/>
<circle class="b" cx="1628.8" cy="1347.6" r="5.4"/>
<circle class="g" cx="1628.8" cy="1364.3" r="5.4"/>
<circle class="b" cx="1628.8" cy="1392.7" r="5.4"/>
<circle class="g" cx="1614.9" cy="1466.9" r="5.4"/>
<circle class="g" cx="1628.7" cy="1466.9" r="5.4"/>
<circle class="g" cx="1642.5" cy="1466.9" r="5.4"/>
</g>
<text class="t" transform="translate(90.43 179.6) scale(0.967 1)">1</text>
<text class="t" transform="translate(63.34 314.9) scale(0.967 1)">0.1</text>
<text class="t" transform="translate(89.62 450.7) scale(0.967 1)">0</text>
<text class="t" transform="translate(90.43 679.4) scale(0.967 1)">1</text>
<text class="t" transform="translate(63.34 817.5) scale(0.967 1)">0.1</text>
<text class="t" transform="translate(89.62 951.3) scale(0.967 1)">0</text>
<text class="t" transform="translate(91.53 1204.9) scale(0.967 1)">1</text>
<text class="t" transform="translate(64.54 1340.3) scale(0.967 1)">0.1</text>
<text class="t" transform="translate(90.77 1476.3) scale(0.967 1)">0</text>
<text transform="translate(26.3 958.6) rotate(-90) scale(0.978 1)" font-size="35.8">Normalized anti-HLA MFI</text>
<circle cx="1828" cy="1267" r="11.2" fill="#72baf9" stroke="#17274a" stroke-width="1.6"/>
<circle cx="1828" cy="1308.3" r="11.2" fill="#a6a5a4" stroke="#17274a" stroke-width="1.6"/>
<text x="1846" y="1281" font-size="35">predicted binder</text>
<text x="1846" y="1324" font-size="35">predicted non-binder</text>
</svg></body></html>
